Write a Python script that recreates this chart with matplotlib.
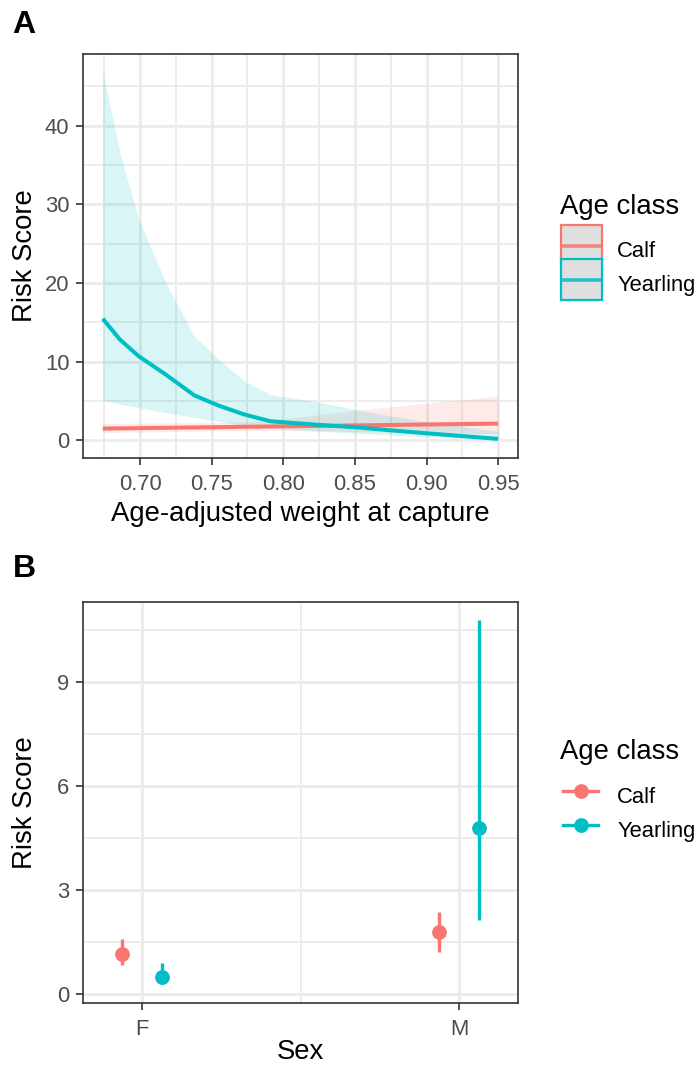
import numpy as np
import matplotlib.pyplot as plt
from matplotlib.patches import Patch, Rectangle
from matplotlib.lines import Line2D
from matplotlib.ticker import MultipleLocator, FixedLocator

plt.rcParams['font.family'] = ['Liberation Sans', 'DejaVu Sans']

# Panel A: predicted risk score vs age-adjusted weight at capture
weight_yearling = [0.674, 0.686, 0.699, 0.718, 0.738, 0.755, 0.773, 0.791, 0.825, 0.851, 0.875, 0.900, 0.950]
yearling_fit = [15.45, 12.8, 10.7, 8.35, 5.7, 4.4, 3.27, 2.42, 1.96, 1.65, 1.27, 0.89, 0.18]
yearling_low = [5.09, 4.6, 4.15, 3.5, 2.9, 2.4, 1.92, 1.55, 1.15, 0.9, 0.65, 0.45, 0.06]
yearling_high = [46.9, 36.5, 28.1, 20.0, 13.2, 10.3, 7.5, 5.8, 4.85, 3.9, 3.1, 2.4, 1.15]

weight_calf = [0.674, 0.750, 0.783, 0.806, 0.850, 0.888, 0.950]
calf_fit = [1.49, 1.66, 1.74, 1.79, 1.89, 1.98, 2.12]
calf_low = [0.98, 1.2, 1.25, 1.25, 1.1, 0.98, 0.82]
calf_high = [2.15, 2.25, 2.45, 2.85, 3.8, 4.5, 5.6]

# Panel B: risk score by sex
sex = ['F', 'M']
calf_est = [1.15, 1.78]
calf_lo = [0.84, 1.22]
calf_hi = [1.58, 2.37]
yearling_est = [0.48, 4.80]
yearling_lo = [0.27, 2.13]
yearling_hi = [0.90, 10.79]

age_classes = ['Calf', 'Yearling']
calf_col = '#F8766D'
yearling_col = '#00BFC4'

W, H = 698, 1067
fig = plt.figure(figsize=(W / 100, H / 100), dpi=100)
axA = fig.add_axes([83 / W, 1 - 458 / H, 435 / W, 404 / H])
axB = fig.add_axes([83 / W, 1 - 1002.7 / H, 435 / W, 400.7 / H])


def style(ax):
    ax.set_axisbelow(True)
    ax.grid(which='major', color='#EBEBEB', lw=2.0)
    ax.grid(which='minor', color='#EBEBEB', lw=1.3)
    for s in ax.spines.values():
        s.set_color('#333333')
        s.set_linewidth(1.2)
    ax.tick_params(which='major', length=5, width=1.2, color='#333333',
                   labelcolor='#4D4D4D', labelsize=15.8)
    ax.tick_params(axis='x', which='major', pad=6.5)
    ax.tick_params(axis='y', which='major', pad=4.8)
    ax.tick_params(which='minor', length=0)


class RibbonKey:
    # grey key box with coloured border and the fitted line across it
    def __init__(self, col):
        self.col = col

    def legend_artist(self, legend, orig_handle, fontsize, handlebox):
        x0, y0 = -handlebox.xdescent, -handlebox.ydescent
        w = handlebox.width
        h = handlebox.height + handlebox.ydescent
        tr = handlebox.get_transform()
        rect = Rectangle((x0, y0), w, h, facecolor='#DFDFDF', edgecolor=self.col,
                         lw=1.6, transform=tr)
        ln = Line2D([x0 + 1, x0 + w - 1], [y0 + h / 2] * 2, color=self.col, lw=2.6,
                    alpha=0.85, transform=tr)
        handlebox.add_artist(rect)
        handlebox.add_artist(ln)
        return rect


# ---- A ----
style(axA)
axA.fill_between(weight_calf, calf_low, calf_high, color=calf_col, alpha=0.15, lw=0)
axA.fill_between(weight_yearling, yearling_low, yearling_high, color=yearling_col, alpha=0.15, lw=0)
axA.plot(weight_calf, calf_fit, color=calf_col, lw=2.9, solid_capstyle='butt')
axA.plot(weight_yearling, yearling_fit, color=yearling_col, lw=2.9, solid_capstyle='butt')
axA.set_xlim(0.6602, 0.9638)
axA.set_ylim(-2.25, 49.1)
axA.xaxis.set_major_locator(MultipleLocator(0.05))
axA.xaxis.set_minor_locator(MultipleLocator(0.025))
axA.yaxis.set_major_locator(MultipleLocator(10))
axA.yaxis.set_minor_locator(MultipleLocator(5))
axA.xaxis.set_major_formatter(lambda v, p: f'{v:.2f}')
axA.set_xlabel('Age-adjusted weight at capture', fontsize=19.8)
axA.set_ylabel('Risk Score', fontsize=19.8)
axA.xaxis.set_label_coords(0.5, -0.106)
axA.yaxis.set_label_coords(-0.1025, 0.5)

# ---- B ----
style(axB)
xpos = np.arange(len(sex)) + 1
dodge = 0.063
for est, lo, hi, col, off in [(calf_est, calf_lo, calf_hi, calf_col, -dodge),
                              (yearling_est, yearling_lo, yearling_hi, yearling_col, dodge)]:
    est = np.array(est)
    axB.errorbar(xpos + off, est, yerr=[est - np.array(lo), np.array(hi) - est],
                 fmt='o', ms=9.6, color=col, mec=col, elinewidth=2.4, capsize=0)
axB.set_xlim(0.8137, 2.185)
axB.set_ylim(-0.256, 11.32)
axB.set_xticks(xpos)
axB.set_xticklabels(sex)
axB.xaxis.set_minor_locator(FixedLocator([1.5]))
axB.yaxis.set_major_locator(MultipleLocator(3))
axB.yaxis.set_minor_locator(MultipleLocator(1.5))
axB.set_xlabel('Sex', fontsize=19.8)
axB.set_ylabel('Risk Score', fontsize=19.8)
axB.xaxis.set_label_coords(0.5, -0.09)
axB.yaxis.set_label_coords(-0.1025, 0.5)

# panel tags
fig.text(12 / W, 1 - 33 / H, 'A', fontsize=23, fontweight='bold', va='baseline')
fig.text(13 / W, 1 - 577 / H, 'B', fontsize=23, fontweight='bold', va='baseline')

# legends
fig.text(560 / W, 1 - 207 / H, 'Age class', fontsize=19.8, va='center')
fig.text(560 / W, 1 - 752 / H, 'Age class', fontsize=19.8, va='center')

handles_A = [Patch(), Patch()]
fig.legend(handles_A, age_classes, loc='upper left',
           handler_map={handles_A[0]: RibbonKey(calf_col), handles_A[1]: RibbonKey(yearling_col)},
           bbox_to_anchor=(560.7 / W, 1 - 234.3 / H), frameon=False,
           fontsize=15.8, handlelength=1.87, handleheight=1.87,
           handletextpad=0.7, labelspacing=0.09, borderpad=0, borderaxespad=0)

handles_B = [Line2D([], [], color=c, lw=2.4, marker='o', ms=9.6)
             for c in [calf_col, yearling_col]]
fig.legend(handles_B, age_classes, loc='upper left',
           bbox_to_anchor=(563 / W, 1 - 779.5 / H), frameon=False,
           fontsize=15.8, handlelength=1.6, handleheight=1.87,
           handletextpad=0.87, labelspacing=0.09, borderpad=0, borderaxespad=0)

fig.savefig('out.png', dpi=100)
